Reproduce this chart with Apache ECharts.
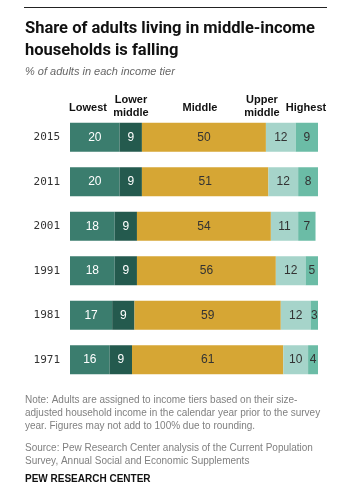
<!DOCTYPE html>
<html>
<head>
<meta charset="utf-8">
<script src="https://cdn.jsdelivr.net/npm/echarts@6/dist/echarts.min.js"></script>
<style>
  body {margin:0;padding:0;background:#fff;overflow:hidden;}
  #main {width:352px;height:500px;}
</style>
</head>
<body>
<div id="main"></div>
<script>
// data (% of adults in each income tier)
const years = ['2015', '2011', '2001', '1991', '1981', '1971'];
const lowest = [20, 20, 18, 18, 17, 16];
const lowerMiddle = [9, 9, 9, 9, 9, 9];
const middle = [50, 51, 54, 56, 59, 61];
const upperMiddle = [12, 12, 11, 12, 12, 10];
const highest = [9, 8, 7, 5, 3, 4];

const tiers = ['Lowest', 'Lower middle', 'Middle', 'Upper middle', 'Highest'];
const tierColors = ['#3b7d6e', '#245a4e', '#d6a634', '#a6d4ca', '#6bbca6'];
const labelColors = ['#fff', '#fff', '#333', '#333', '#333'];

const chart = echarts.init(document.getElementById('main'), null, {renderer: 'canvas'});

const seriesData = [lowest, lowerMiddle, middle, upperMiddle, highest];
const series = seriesData.map(function (vals, i) {
  return {
    name: tiers[i],
    type: 'bar',
    stack: 'total',
    barWidth: 29,
    data: vals,
    itemStyle: {color: tierColors[i]},
    label: {
      show: true,
      position: 'inside',
      color: labelColors[i],
      fontFamily: 'Liberation Sans',
      fontSize: 12
    }
  };
});

const grey = '#808080';
function txt(x, y, s, style) {
  return {type: 'text', left: x, top: y, style: Object.assign({text: s}, style)};
}
const headStyle = {fontFamily: 'Liberation Sans', fontWeight: 'bold', fontSize: 11, fill: '#111', textAlign: 'center', lineHeight: 13};
const noteStyle = {fontFamily: 'Liberation Sans', fontSize: 10, fill: grey, lineHeight: 13};

chart.setOption({
  animation: false,
  grid: {left: 70, right: 34, top: 115, bottom: 118},
  xAxis: {type: 'value', min: 0, max: 100, show: false},
  yAxis: {
    type: 'category',
    data: years,
    inverse: true,
    axisLine: {show: false},
    axisTick: {show: false},
    axisLabel: {margin: 10, color: '#333', fontFamily: 'DejaVu Sans Mono', fontSize: 11}
  },
  series: series,
  graphic: [
    {type: 'line', shape: {x1: 24, y1: 7.5, x2: 327, y2: 7.5}, style: {stroke: '#222', lineWidth: 1}},
    txt(25, 18, 'Share of adults living in middle-income\nhouseholds is falling',
      {fontFamily: 'Roboto', fontWeight: 'bold', fontSize: 16.5, fill: '#111', lineHeight: 22}),
    txt(25, 66, '% of adults in each income tier',
      {fontFamily: 'Liberation Sans', fontStyle: 'italic', fontSize: 11, fill: '#666'}),
    {type: 'text', x: 88, y: 101, style: Object.assign({text: 'Lowest'}, headStyle)},
    {type: 'text', x: 131, y: 93, style: Object.assign({text: 'Lower\nmiddle'}, headStyle)},
    {type: 'text', x: 200, y: 101, style: Object.assign({text: 'Middle'}, headStyle)},
    {type: 'text', x: 262, y: 93, style: Object.assign({text: 'Upper\nmiddle'}, headStyle)},
    {type: 'text', x: 306, y: 101, style: Object.assign({text: 'Highest'}, headStyle)},
    txt(25, 394, 'Note: Adults are assigned to income tiers based on their size-\nadjusted household income in the calendar year prior to the survey\nyear. Figures may not add to 100% due to rounding.', noteStyle),
    txt(25, 442, 'Source: Pew Research Center analysis of the Current Population\nSurvey, Annual Social and Economic Supplements', noteStyle),
    txt(25, 474, 'PEW RESEARCH CENTER',
      {fontFamily: 'Liberation Sans', fontWeight: 'bold', fontSize: 10, fill: '#111'})
  ]
});

window.onresize = chart.resize;
</script>
</body>
</html>
